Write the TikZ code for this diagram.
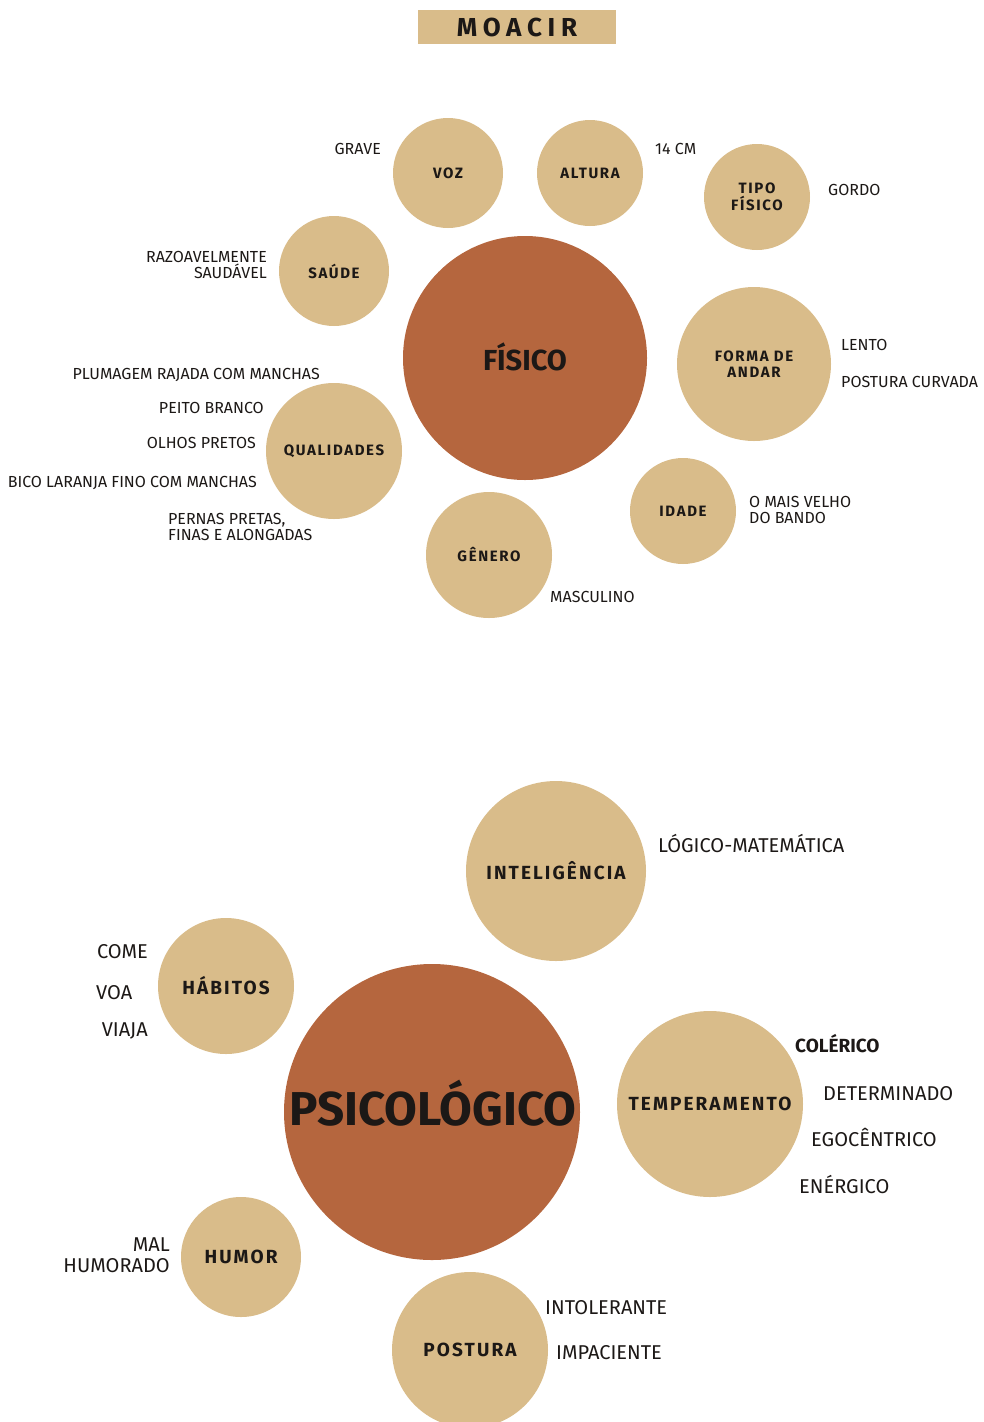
\documentclass[tikz,border=0pt]{standalone}
\usepackage{fontspec}
\setmainfont{Fira Sans}
\newfontfamily\spaced{Fira Sans}[LetterSpace=11]
\newfontfamily\wide{Fira Sans}[LetterSpace=22]
\usetikzlibrary{positioning}
\definecolor{barro}{RGB}{181,102,62}
\definecolor{areia}{RGB}{217,188,138}
\definecolor{tinta}{RGB}{28,24,22}
\tikzset {
  every node/.style={text=tinta},
  nucleo/.style={circle,fill=barro,inner sep=0pt,minimum size=#1},
  bolha/.style={circle,fill=areia,inner sep=0pt,minimum size=#1,align=center,
    font=\spaced\bfseries\fontsize{15}{16.5}\selectfont},
  bolhag/.style={circle,fill=areia,inner sep=0pt,minimum size=#1,align=center,
    font=\spaced\bfseries\fontsize{19}{19}\selectfont},
  dado/.style={inner sep=0pt,font=\fontsize{16}{16}\selectfont},
  dadog/.style={inner sep=0pt,font=\fontsize{20}{21}\selectfont},
}

\begin{document}
\begin{tikzpicture}[x=1pt,y=-1pt]
  \useasboundingbox (0,0) rectangle (984,1422);
  \node[fill=areia,minimum width=198pt,minimum height=34pt,inner sep=0pt,
    font=\wide\bfseries\fontsize{26}{26}\selectfont] (titulo) at (517,27) {MOACIR};

  % fisico
  \node[nucleo=244pt] (fisico) at (525,358) {};
  \node[anchor=base,inner sep=0pt,font=\bfseries\fontsize{29}{29}\selectfont] (fisicot) at (525,370) {FÍSICO};
  \node[bolha=110pt] (voz) at (448,173) {VOZ};
  \node[bolha=106pt] (altura) at (590,173) {ALTURA};
  \node[bolha=106pt] (tipo) at (757,197) {TIPO\\FÍSICO};
  \node[bolha=110pt] (saude) at (334,271) {SAÚDE};
  \node[bolha=154pt] (andar) at (754,364) {FORMA DE\\ANDAR};
  \node[bolha=136pt] (qual) at (334,451) {QUALIDADES};
  \node[bolha=106pt] (idade) at (683,511) {IDADE};
  \node[bolha=126pt] (genero) at (489,555) {GÊNERO};

  \node[dado,anchor=base east] (grave) at (381,154) {GRAVE};
  \node[dado,anchor=base west] (cm) at (655,154) {14 CM};
  \node[dado,anchor=base west] (gordo) at (828,195) {GORDO};
  \node[dado,anchor=east,align=right] (sadio) at (267,265) {RAZOAVELMENTE\\SAUDÁVEL};
  \node[dado,anchor=base west] (lento) at (841,350) {LENTO};
  \node[dado,anchor=base west] (curva) at (841,387) {POSTURA CURVADA};
  \node[dado,anchor=base east] (pluma) at (320,379) {PLUMAGEM RAJADA COM MANCHAS};
  \node[dado,anchor=base east] (peito) at (264,413) {PEITO BRANCO};
  \node[dado,anchor=base east] (olhos) at (256,448) {OLHOS PRETOS};
  \node[dado,anchor=base east] (bico) at (257,487) {BICO LARANJA FINO COM MANCHAS};
  \node[dado,anchor=west,align=left] (pernas) at (168,527) {PERNAS PRETAS,\\FINAS E ALONGADAS};
  \node[dado,anchor=west,align=left] (velho) at (749,510) {O MAIS VELHO\\DO BANDO};
  \node[dado,anchor=base west] (masc) at (550,602) {MASCULINO};

  % psicologico
  \node[nucleo=296pt] (psico) at (432,1112) {};
  \node[anchor=base,inner sep=0pt,font=\bfseries\fontsize{47.5}{48}\selectfont] (psicot) at (433,1125) {PSICOLÓGICO};
  \node[bolhag=180pt] (intel) at (556,871) {INTELIGÊNCIA};
  \node[bolhag=136pt] (habitos) at (226,986) {HÁBITOS};
  \node[bolhag=186pt] (temper) at (710,1104) {TEMPERAMENTO};
  \node[bolhag=120pt] (humor) at (241,1257) {HUMOR};
  \node[bolhag=156pt] (postura) at (470,1350) {POSTURA};

  \node[dadog,anchor=base west] (logico) at (658,852) {LÓGICO-MATEMÁTICA};
  \node[dadog,anchor=base east] (come) at (148,958) {COME};
  \node[dadog,anchor=base west] (voa) at (96,999) {VOA};
  \node[dadog,anchor=base east] (viaja) at (148,1036) {VIAJA};
  \node[dadog,anchor=base west,font=\bfseries\fontsize{19}{19}\selectfont] (colerico) at (795,1052) {COLÉRICO};
  \node[dadog,anchor=base west] (determ) at (823,1100) {DETERMINADO};
  \node[dadog,anchor=base west] (ego) at (811,1146) {EGOCÊNTRICO};
  \node[dadog,anchor=base west] (energ) at (799,1193) {ENÉRGICO};
  \node[dadog,anchor=east,align=right] (malhum) at (170,1255) {MAL\\HUMORADO};
  \node[dadog,anchor=base west] (intoler) at (545,1314) {INTOLERANTE};
  \node[dadog,anchor=base west] (impac) at (556,1359) {IMPACIENTE};
\end{tikzpicture}
\end{document}
